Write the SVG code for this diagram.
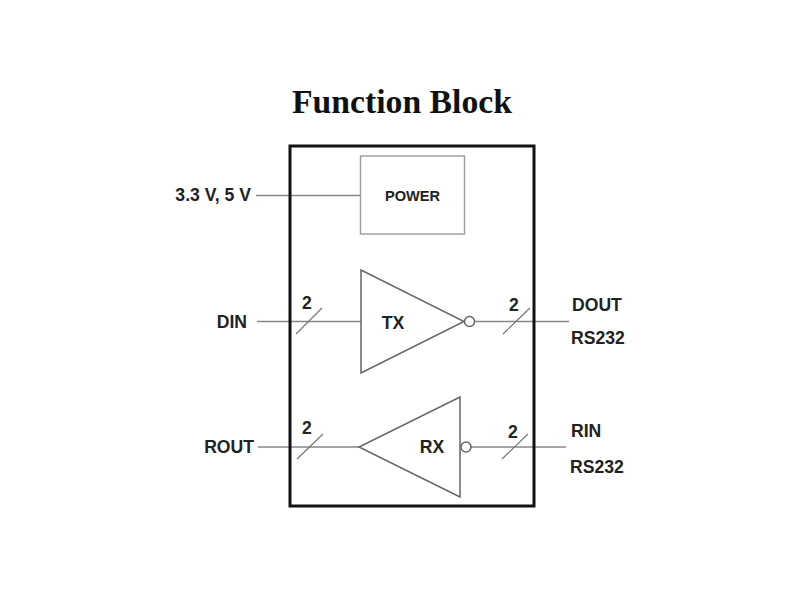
<svg xmlns="http://www.w3.org/2000/svg" width="800" height="600" viewBox="0 0 800 600">
<style>
.l{font:bold 17.6px "Liberation Sans",Arial,sans-serif;fill:#222}
.w{fill:none;stroke:#888;stroke-width:1.4}
.s{fill:none;stroke:#777;stroke-width:1.2}
.g{fill:#fff;stroke:#666;stroke-width:1.5}
</style>
<rect width="800" height="600" fill="#fff"/>
<text x="402" y="113" text-anchor="middle" style="font:bold 33.700px 'Liberation Serif','Times New Roman',serif;fill:#111">Function Block</text>
<g id="connectors">
<path class="w" d="M256 195.500H360M257 321.500H361M474 321.500H569M258 447H359M471 447H566"/>
<path class="s" d="M296 334L322 308M503 334L530 308M297 459L323 434M502 459L528 434"/>
</g>
<g id="chip"><rect x="290" y="146" width="244" height="360" fill="none" stroke="#111" stroke-width="3"/></g>
<g id="power"><rect x="360.500" y="156" width="104" height="78" fill="#fff" stroke="#999" stroke-width="1.4"/><text x="412.500" y="200.500" text-anchor="middle" class="l" style="font-size:14.600px">POWER</text></g>
<g id="tx"><path class="g" d="M361 270V373L464 321.500Z"/><circle class="g" cx="469.500" cy="321.500" r="5"/><text x="393" y="329" text-anchor="middle" class="l">TX</text></g>
<g id="rx"><path class="g" d="M460 397V497L359 447Z"/><circle class="g" cx="466" cy="447" r="5"/><text x="432" y="453" text-anchor="middle" class="l">RX</text></g>
<g id="labels">
<text x="251" y="200.500" text-anchor="end" class="l">3.3 V, 5 V</text>
<text x="247" y="328" text-anchor="end" class="l">DIN</text>
<text x="254" y="453" text-anchor="end" class="l">ROUT</text>
<text x="572" y="310.500" class="l">DOUT</text>
<text x="571" y="343.500" class="l">RS232</text>
<text x="571" y="437" class="l">RIN</text>
<text x="570" y="473" class="l">RS232</text>
<text x="307" y="309" text-anchor="middle" class="l">2</text>
<text x="514" y="311" text-anchor="middle" class="l">2</text>
<text x="307" y="434" text-anchor="middle" class="l">2</text>
<text x="513" y="438" text-anchor="middle" class="l">2</text>
</g>
</svg>
